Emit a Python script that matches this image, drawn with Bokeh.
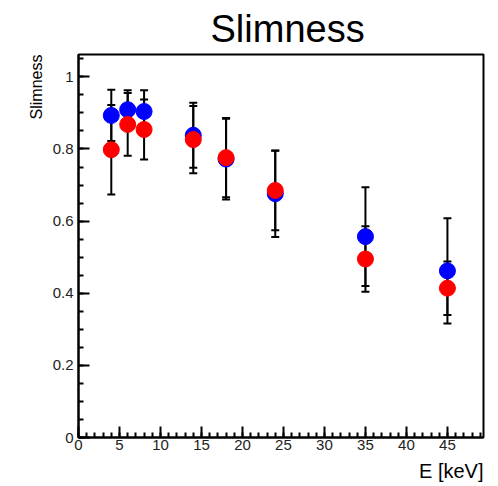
from bokeh.plotting import figure
from bokeh.models import (ColumnDataSource, Whisker, TeeHead, Title, Range1d,
                          SingleIntervalTicker, CustomJSTickFormatter)
from bokeh.embed import file_html
from bokeh.resources import INLINE

# ---- data ----
energy = [4, 6, 8, 14, 18, 24, 35, 45]
blue_val = [0.893, 0.909, 0.904, 0.838, 0.772, 0.676, 0.557, 0.462]
blue_err = [0.071, 0.054, 0.059, 0.090, 0.112, 0.120, 0.137, 0.146]
red_val = [0.798, 0.868, 0.854, 0.826, 0.776, 0.685, 0.495, 0.414]
red_err = [0.124, 0.087, 0.083, 0.093, 0.110, 0.110, 0.091, 0.074]

title_text = "Slimness"
x_title = "E [keV]"
y_title = "Slimness"

FONT = "Liberation Sans"

p = figure(width=498, height=486, output_backend="svg", toolbar_location=None,
           x_range=Range1d(0, 49.4), y_range=Range1d(0, 1.062),
           min_border_left=78, min_border_right=15, min_border_top=54,
           min_border_bottom=49)
p.background_fill_color = "white"
p.border_fill_color = "white"
p.outline_line_color = "black"
p.outline_line_width = 2
p.xgrid.visible = False
p.ygrid.visible = False

p.xaxis.ticker = SingleIntervalTicker(interval=5, num_minor_ticks=5)
p.yaxis.ticker = SingleIntervalTicker(interval=0.2, num_minor_ticks=4)
p.yaxis.formatter = CustomJSTickFormatter(code="return (Math.round(tick*10)/10).toString();")
for ax in (p.xaxis, p.yaxis):
    ax.axis_line_width = 2
    ax.axis_line_color = "black"
    ax.major_tick_in = 11
    ax.major_tick_out = 0
    ax.minor_tick_in = 5
    ax.minor_tick_out = 0
    ax.major_tick_line_width = 2
    ax.minor_tick_line_width = 2
    ax.major_tick_line_color = "black"
    ax.minor_tick_line_color = "black"
    ax.major_label_text_font = FONT
    ax.major_label_text_font_size = "15px"
    ax.major_label_text_color = "#222222"
p.xaxis.major_label_standoff = 2
p.yaxis.major_label_standoff = 5

def add_series(vals, errs, color):
    src = ColumnDataSource(dict(
        x=energy, y=vals,
        lo=[v - e for v, e in zip(vals, errs)],
        hi=[v + e for v, e in zip(vals, errs)]))
    w = Whisker(base="x", lower="lo", upper="hi", source=src,
                line_color="black", line_width=2,
                upper_head=TeeHead(size=8, line_width=2, line_color="black"),
                lower_head=TeeHead(size=8, line_width=2, line_color="black"))
    p.add_layout(w)
    p.scatter("x", "y", source=src, size=16, fill_color=color, line_color=color,
              marker="circle")

add_series(blue_val, blue_err, "#0000ff")
add_series(red_val, red_err, "#ff0000")

p.add_layout(Title(text=title_text, text_font=FONT, text_font_size="38px",
                   text_font_style="normal", align="left", offset=132,
                   text_color="black"), "above")
p.add_layout(Title(text=x_title, text_font=FONT, text_font_size="20px",
                   text_font_style="normal", align="right",
                   text_color="black"), "below")
p.add_layout(Title(text=y_title, text_font=FONT, text_font_size="16px",
                   text_font_style="normal", align="right",
                   text_color="black"), "left")

open("out.html", "w").write(file_html(p, INLINE))
